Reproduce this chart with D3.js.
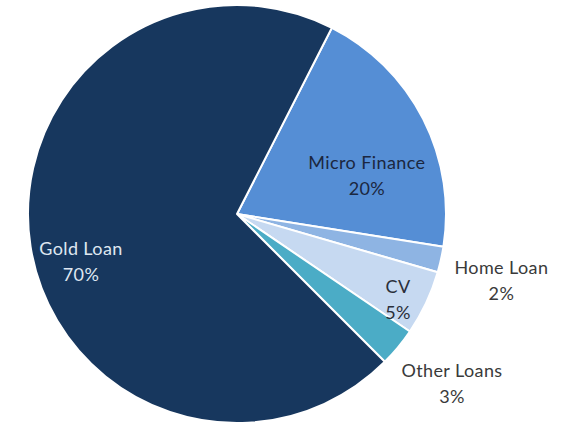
<!DOCTYPE html>
<html>
<head>
<meta charset="utf-8">
<script src="https://cdn.jsdelivr.net/npm/d3@7"></script>
<style>
  html, body { margin: 0; padding: 0; background: #fff; }
  svg { display: block; }
  text { font-family: Lato, "Open Sans", sans-serif; font-size: 18px; letter-spacing: 0.4px; }
</style>
</head>
<body>
<svg id="chart" width="562" height="428"></svg>
<script>
// Loan portfolio mix (share of total, %)
const categories = ["Micro Finance", "Home Loan", "CV", "Other Loans", "Gold Loan"];
const shares = [20, 2, 5, 3, 70];
const colors = ["#558ED5", "#8EB4E3", "#C6D9F1", "#4BACC6", "#17375E"];
const labelColors = ["#1b2740", "#3a3a3a", "#2a2f3a", "#3a3a3a", "#dfe7f1"];

const data = categories.map((c, i) => ({ name: c, value: shares[i] }));

const svg = d3.select("#chart");
const cx = 237, cy = 214, r = 209;
const g = svg.append("g").attr("transform", `translate(${cx},${cy})`);

const start = 27 * Math.PI / 180;
const pie = d3.pie().sort(null).value(d => d.value)
  .startAngle(start).endAngle(start + 2 * Math.PI);
const arcs = pie(data);
const arc = d3.arc().innerRadius(0).outerRadius(r);

g.selectAll("path.slice").data(arcs).join("path")
  .attr("class", "slice")
  .attr("d", arc)
  .attr("fill", (d, i) => colors[i])
  .attr("stroke", "#fff")
  .attr("stroke-width", 2)
  .attr("stroke-linejoin", "round");

// Label placement: radius as a fraction of r, angle nudge (degrees) from the slice middle
const labelRadius = [0.649, 1.304, 0.870, 1.307, 0.779];
const angleNudge = [10.3, 1.4, 2.5, -1.5, -7.6];

arcs.forEach((d, i) => {
  const mid = (d.startAngle + d.endAngle) / 2 + angleNudge[i] * Math.PI / 180;
  const rr = labelRadius[i] * r;
  const x = Math.sin(mid) * rr;
  const y = -Math.cos(mid) * rr;
  const t = g.append("text")
    .attr("text-anchor", "middle")
    .attr("dominant-baseline", "central")
    .attr("fill", labelColors[i]);
  t.append("tspan").attr("x", x).attr("y", y - 13).text(d.data.name);
  t.append("tspan").attr("x", x).attr("y", y + 13).text(d.data.value + "%");
});
</script>
</body>
</html>
